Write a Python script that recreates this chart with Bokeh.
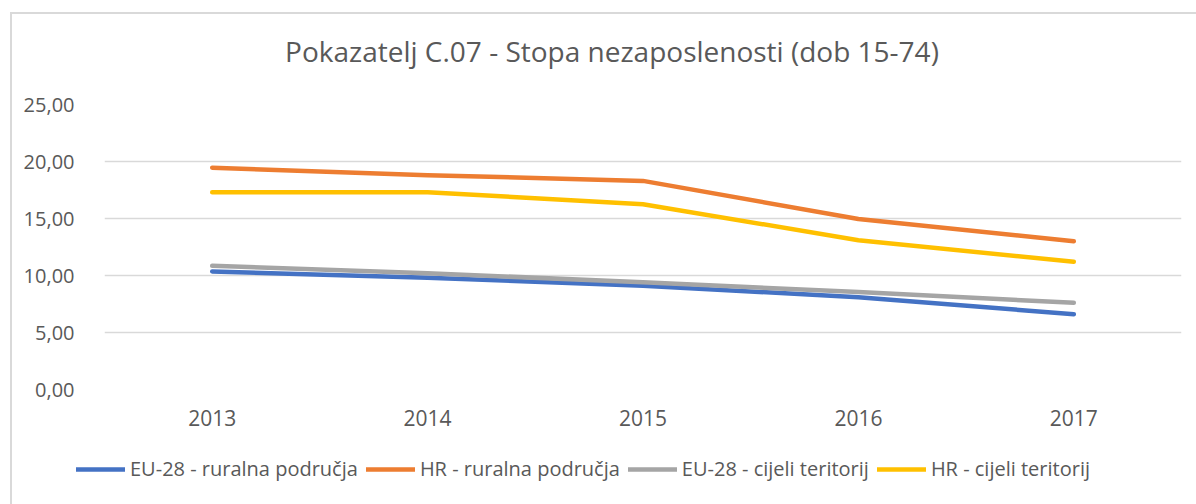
from bokeh.plotting import figure
from bokeh.layouts import column, row
from bokeh.models import Range1d, FixedTicker, Legend, LegendItem, ColumnDataSource, Div
from bokeh.embed import file_html
from bokeh.resources import INLINE

years = ["2013", "2014", "2015", "2016", "2017"]
eu_rural = [10.35, 9.8, 9.1, 8.1, 6.6]
hr_rural = [19.45, 18.8, 18.3, 14.95, 13.0]
eu_total = [10.85, 10.2, 9.4, 8.55, 7.6]
hr_total = [17.3, 17.3, 16.25, 13.1, 11.2]
series_keys = ["eu_rural", "hr_rural", "eu_total", "hr_total"]
series_names = ["EU-28 - ruralna područja", "HR - ruralna područja",
                "EU-28 - cijeli teritorij", "HR - cijeli teritorij"]
colors = ["#4472C4", "#ED7D31", "#A5A5A5", "#FFC000"]
y_ticks = [0, 5, 10, 15, 20, 25]
y_tick_labels = ["0,00", "5,00", "10,00", "15,00", "20,00", "25,00"]
title_text = "Pokazatelj C.07 - Stopa nezaposlenosti (dob 15-74)"

FONT = "Open Sans"
TXT = "#595959"
W = 1184

src = ColumnDataSource(dict(x=years, eu_rural=eu_rural, hr_rural=hr_rural,
                            eu_total=eu_total, hr_total=hr_total))

title_div = Div(text=title_text, width=W, height=64,
                styles={"font-family": FONT, "font-size": "28px", "color": TXT,
                        "text-align": "center", "line-height": "64px",
                        "text-indent": "6px", "white-space": "nowrap"})

p = figure(x_range=years, y_range=Range1d(0, 25), width=W, height=352,
           output_backend="svg", toolbar_location=None,
           min_border_left=92, min_border_right=15, min_border_top=16,
           min_border_bottom=51)

p.outline_line_color = None
p.xgrid.grid_line_color = None
p.ygrid.grid_line_color = "#d9d9d9"
p.ygrid.grid_line_width = 1.5

p.yaxis.ticker = FixedTicker(ticks=y_ticks)
p.yaxis.major_label_overrides = {t: l for t, l in zip(y_ticks, y_tick_labels)}
for ax in (p.xaxis, p.yaxis):
    ax.axis_line_color = None
    ax.major_tick_line_color = None
    ax.minor_tick_line_color = None
    ax.major_label_text_font = FONT
    ax.major_label_text_font_size = "20px"
    ax.major_label_text_color = TXT
p.xaxis.major_label_text_font_size = "21px"
p.yaxis.major_label_standoff = 24
p.xaxis.major_label_standoff = 14

for key, col in zip(series_keys, colors):
    p.line("x", key, source=src, line_color=col, line_width=4.5,
           line_cap="round", line_join="round")

# legend strip below the chart (series re-drawn out of view, only the legend shows)
q = figure(width=W, height=64, x_range=years, y_range=Range1d(100, 164),
           output_backend="svg", toolbar_location=None,
           x_axis_location=None, y_axis_location=None,
           min_border=0, min_border_left=0, min_border_right=0,
           min_border_top=0, min_border_bottom=0)
q.grid.grid_line_color = None
q.outline_line_color = None
items = []
for key, name, col in zip(series_keys, series_names, colors):
    r = q.line("x", key, source=src, line_color=col, line_width=4.5, line_cap="round")
    items.append(LegendItem(label=name, renderers=[r]))
legend = Legend(items=items, orientation="horizontal", location=(64, 22),
                glyph_width=49, glyph_height=20, label_height=20,
                label_standoff=5, spacing=8, padding=0, margin=0,
                border_line_color=None, background_fill_alpha=0,
                label_text_font=FONT, label_text_font_size="20px",
                label_text_color=TXT)
q.add_layout(legend, "center")

layout = column(title_div, p, row(q), spacing=0)
layout.styles = {"border-left": "2px solid #d9d9d9", "border-top": "2px solid #d9d9d9",
                 "margin-left": "10px", "margin-top": "12px"}

open("out.html", "w").write(file_html(layout, INLINE))
